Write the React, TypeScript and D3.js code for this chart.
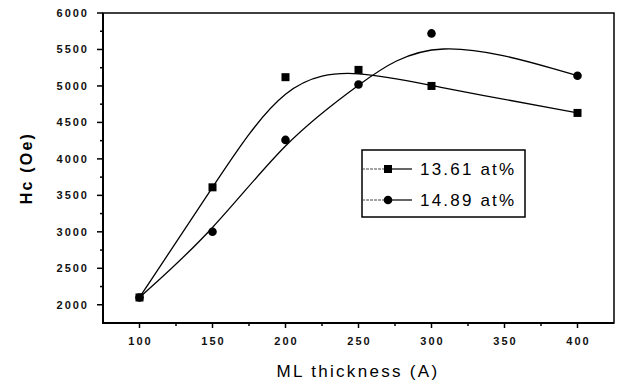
import { useEffect, useRef } from "react";
import * as d3 from "d3";

// ML thickness (A) and coercivity Hc (Oe)
const thickness = [100, 150, 200, 250, 300, 400];
const hc1361 = [2100, 3610, 5120, 5220, 5000, 4630];
const hc1489 = [2100, 3000, 4260, 5020, 5720, 5140];

const xTicks = [100, 150, 200, 250, 300, 350, 400];
const xMinor = [125, 175, 225, 275, 325, 375];
const yTicks = [2000, 2500, 3000, 3500, 4000, 4500, 5000, 5500, 6000];
const yMinor = [2250, 2750, 3250, 3750, 4250, 4750, 5250, 5750];

const seriesNames = ["13.61 at%", "14.89 at%"];

const FONT = "'Liberation Sans', Arial, sans-serif";

const App = () => {
  const svgRef = useRef<SVGSVGElement | null>(null);

  useEffect(() => {
    const width = 618;
    const height = 385;
    const left = 103;
    const right = 614;
    const top = 13;
    const bottom = 323;

    const svg = d3.select(svgRef.current);
    svg.selectAll("*").remove();
    svg.attr("width", width).attr("height", height);

    const x = d3.scaleLinear().domain([75, 425]).range([left, right]);
    const y = d3.scaleLinear().domain([1750, 6000]).range([bottom, top]);

    // frame
    svg
      .append("rect")
      .attr("x", left)
      .attr("y", top)
      .attr("width", right - left)
      .attr("height", bottom - top)
      .attr("fill", "none")
      .attr("stroke", "#000")
      .attr("stroke-width", 1.5);

    // heavier left / bottom axis lines
    svg
      .append("path")
      .attr("d", `M${left},${top}V${bottom}H${right}`)
      .attr("fill", "none")
      .attr("stroke", "#000")
      .attr("stroke-width", 2);

    // y ticks
    svg
      .selectAll(".ytick")
      .data(yTicks)
      .enter()
      .append("line")
      .attr("x1", left - 6)
      .attr("x2", left)
      .attr("y1", (d) => y(d))
      .attr("y2", (d) => y(d))
      .attr("stroke", "#000")
      .attr("stroke-width", 1.5);

    svg
      .selectAll(".yminor")
      .data(yMinor)
      .enter()
      .append("line")
      .attr("x1", left - 3)
      .attr("x2", left)
      .attr("y1", (d) => y(d))
      .attr("y2", (d) => y(d))
      .attr("stroke", "#000")
      .attr("stroke-width", 1.5);

    svg
      .selectAll(".ylabel")
      .data(yTicks)
      .enter()
      .append("text")
      .attr("x", left - 14)
      .attr("y", (d) => y(d))
      .attr("dy", "0.36em")
      .attr("text-anchor", "end")
      .style("font-family", FONT)
      .style("font-size", "11px")
      .style("font-weight", "bold")
      .style("letter-spacing", "2px")
      .attr("fill", "#111")
      .text((d) => d);

    // x ticks
    svg
      .selectAll(".xtick")
      .data(xTicks)
      .enter()
      .append("line")
      .attr("x1", (d) => x(d))
      .attr("x2", (d) => x(d))
      .attr("y1", bottom)
      .attr("y2", bottom + 5)
      .attr("stroke", "#000")
      .attr("stroke-width", 1.5);

    svg
      .selectAll(".xminor")
      .data(xMinor)
      .enter()
      .append("line")
      .attr("x1", (d) => x(d))
      .attr("x2", (d) => x(d))
      .attr("y1", bottom)
      .attr("y2", bottom + 3)
      .attr("stroke", "#000")
      .attr("stroke-width", 1.5);

    svg
      .selectAll(".xlabel")
      .data(xTicks)
      .enter()
      .append("text")
      .attr("x", (d) => x(d) + 1)
      .attr("y", 345)
      .attr("text-anchor", "middle")
      .style("font-family", FONT)
      .style("font-size", "11px")
      .style("font-weight", "bold")
      .style("letter-spacing", "2px")
      .attr("fill", "#111")
      .text((d) => d);

    // axis titles
    svg
      .append("text")
      .attr("x", 358)
      .attr("y", 377)
      .attr("text-anchor", "middle")
      .style("font-family", FONT)
      .style("font-size", "17px")
      .style("letter-spacing", "2.3px")
      .attr("fill", "#000")
      .text("ML thickness (A)");

    svg
      .append("text")
      .attr("transform", "translate(32,168) rotate(-90)")
      .attr("text-anchor", "middle")
      .style("font-family", FONT)
      .style("font-size", "16px")
      .style("font-weight", "bold")
      .style("letter-spacing", "2.2px")
      .attr("fill", "#000")
      .text("Hc (Oe)");

    // smoothed curves
    const line = d3
      .line<number>()
      .x((_, i) => x(thickness[i]))
      .y((d) => y(d))
      .curve(d3.curveBasis);

    [hc1361, hc1489].forEach((vals) => {
      svg
        .append("path")
        .attr("d", line(vals))
        .attr("fill", "none")
        .attr("stroke", "#000")
        .attr("stroke-width", 1.3);
    });

    // markers
    svg
      .selectAll(".sq")
      .data(hc1361)
      .enter()
      .append("rect")
      .attr("x", (_, i) => x(thickness[i]) - 4)
      .attr("y", (d) => y(d) - 4)
      .attr("width", 8)
      .attr("height", 8)
      .attr("fill", "#000");

    svg
      .selectAll(".ci")
      .data(hc1489)
      .enter()
      .append("circle")
      .attr("cx", (_, i) => x(thickness[i]))
      .attr("cy", (d) => y(d))
      .attr("r", 4.3)
      .attr("fill", "#000");

    // legend
    const lx = 362;
    const ly = 150;
    svg
      .append("rect")
      .attr("x", lx)
      .attr("y", ly)
      .attr("width", 163)
      .attr("height", 67)
      .attr("fill", "#fff")
      .attr("stroke", "#000")
      .attr("stroke-width", 1.5);

    seriesNames.forEach((name, i) => {
      const ry = 169 + i * 31;
      svg
        .append("line")
        .attr("x1", lx)
        .attr("x2", lx + 22)
        .attr("y1", ry)
        .attr("y2", ry)
        .attr("stroke", "#333")
        .attr("stroke-width", 0.9)
        .attr("stroke-dasharray", "3,1");
      svg
        .append("line")
        .attr("x1", lx + 26)
        .attr("x2", lx + 50)
        .attr("y1", ry)
        .attr("y2", ry)
        .attr("stroke", "#000")
        .attr("stroke-width", 1.2);
      if (i === 0) {
        svg
          .append("rect")
          .attr("x", lx + 26 - 4)
          .attr("y", ry - 4)
          .attr("width", 8)
          .attr("height", 8)
          .attr("fill", "#000");
      } else {
        svg
          .append("circle")
          .attr("cx", lx + 26)
          .attr("cy", ry)
          .attr("r", 4.3)
          .attr("fill", "#000");
      }
      svg
        .append("text")
        .attr("x", lx + 58)
        .attr("y", ry + 6)
        .style("font-family", FONT)
        .style("font-size", "17px")
        .style("letter-spacing", "2.2px")
        .attr("fill", "#000")
        .text(name);
    });
  }, []);

  return (
    <svg
      ref={svgRef}
      style={{ position: "absolute", left: 0, top: 0, background: "#fff" }}
    ></svg>
  );
};

export default App;
